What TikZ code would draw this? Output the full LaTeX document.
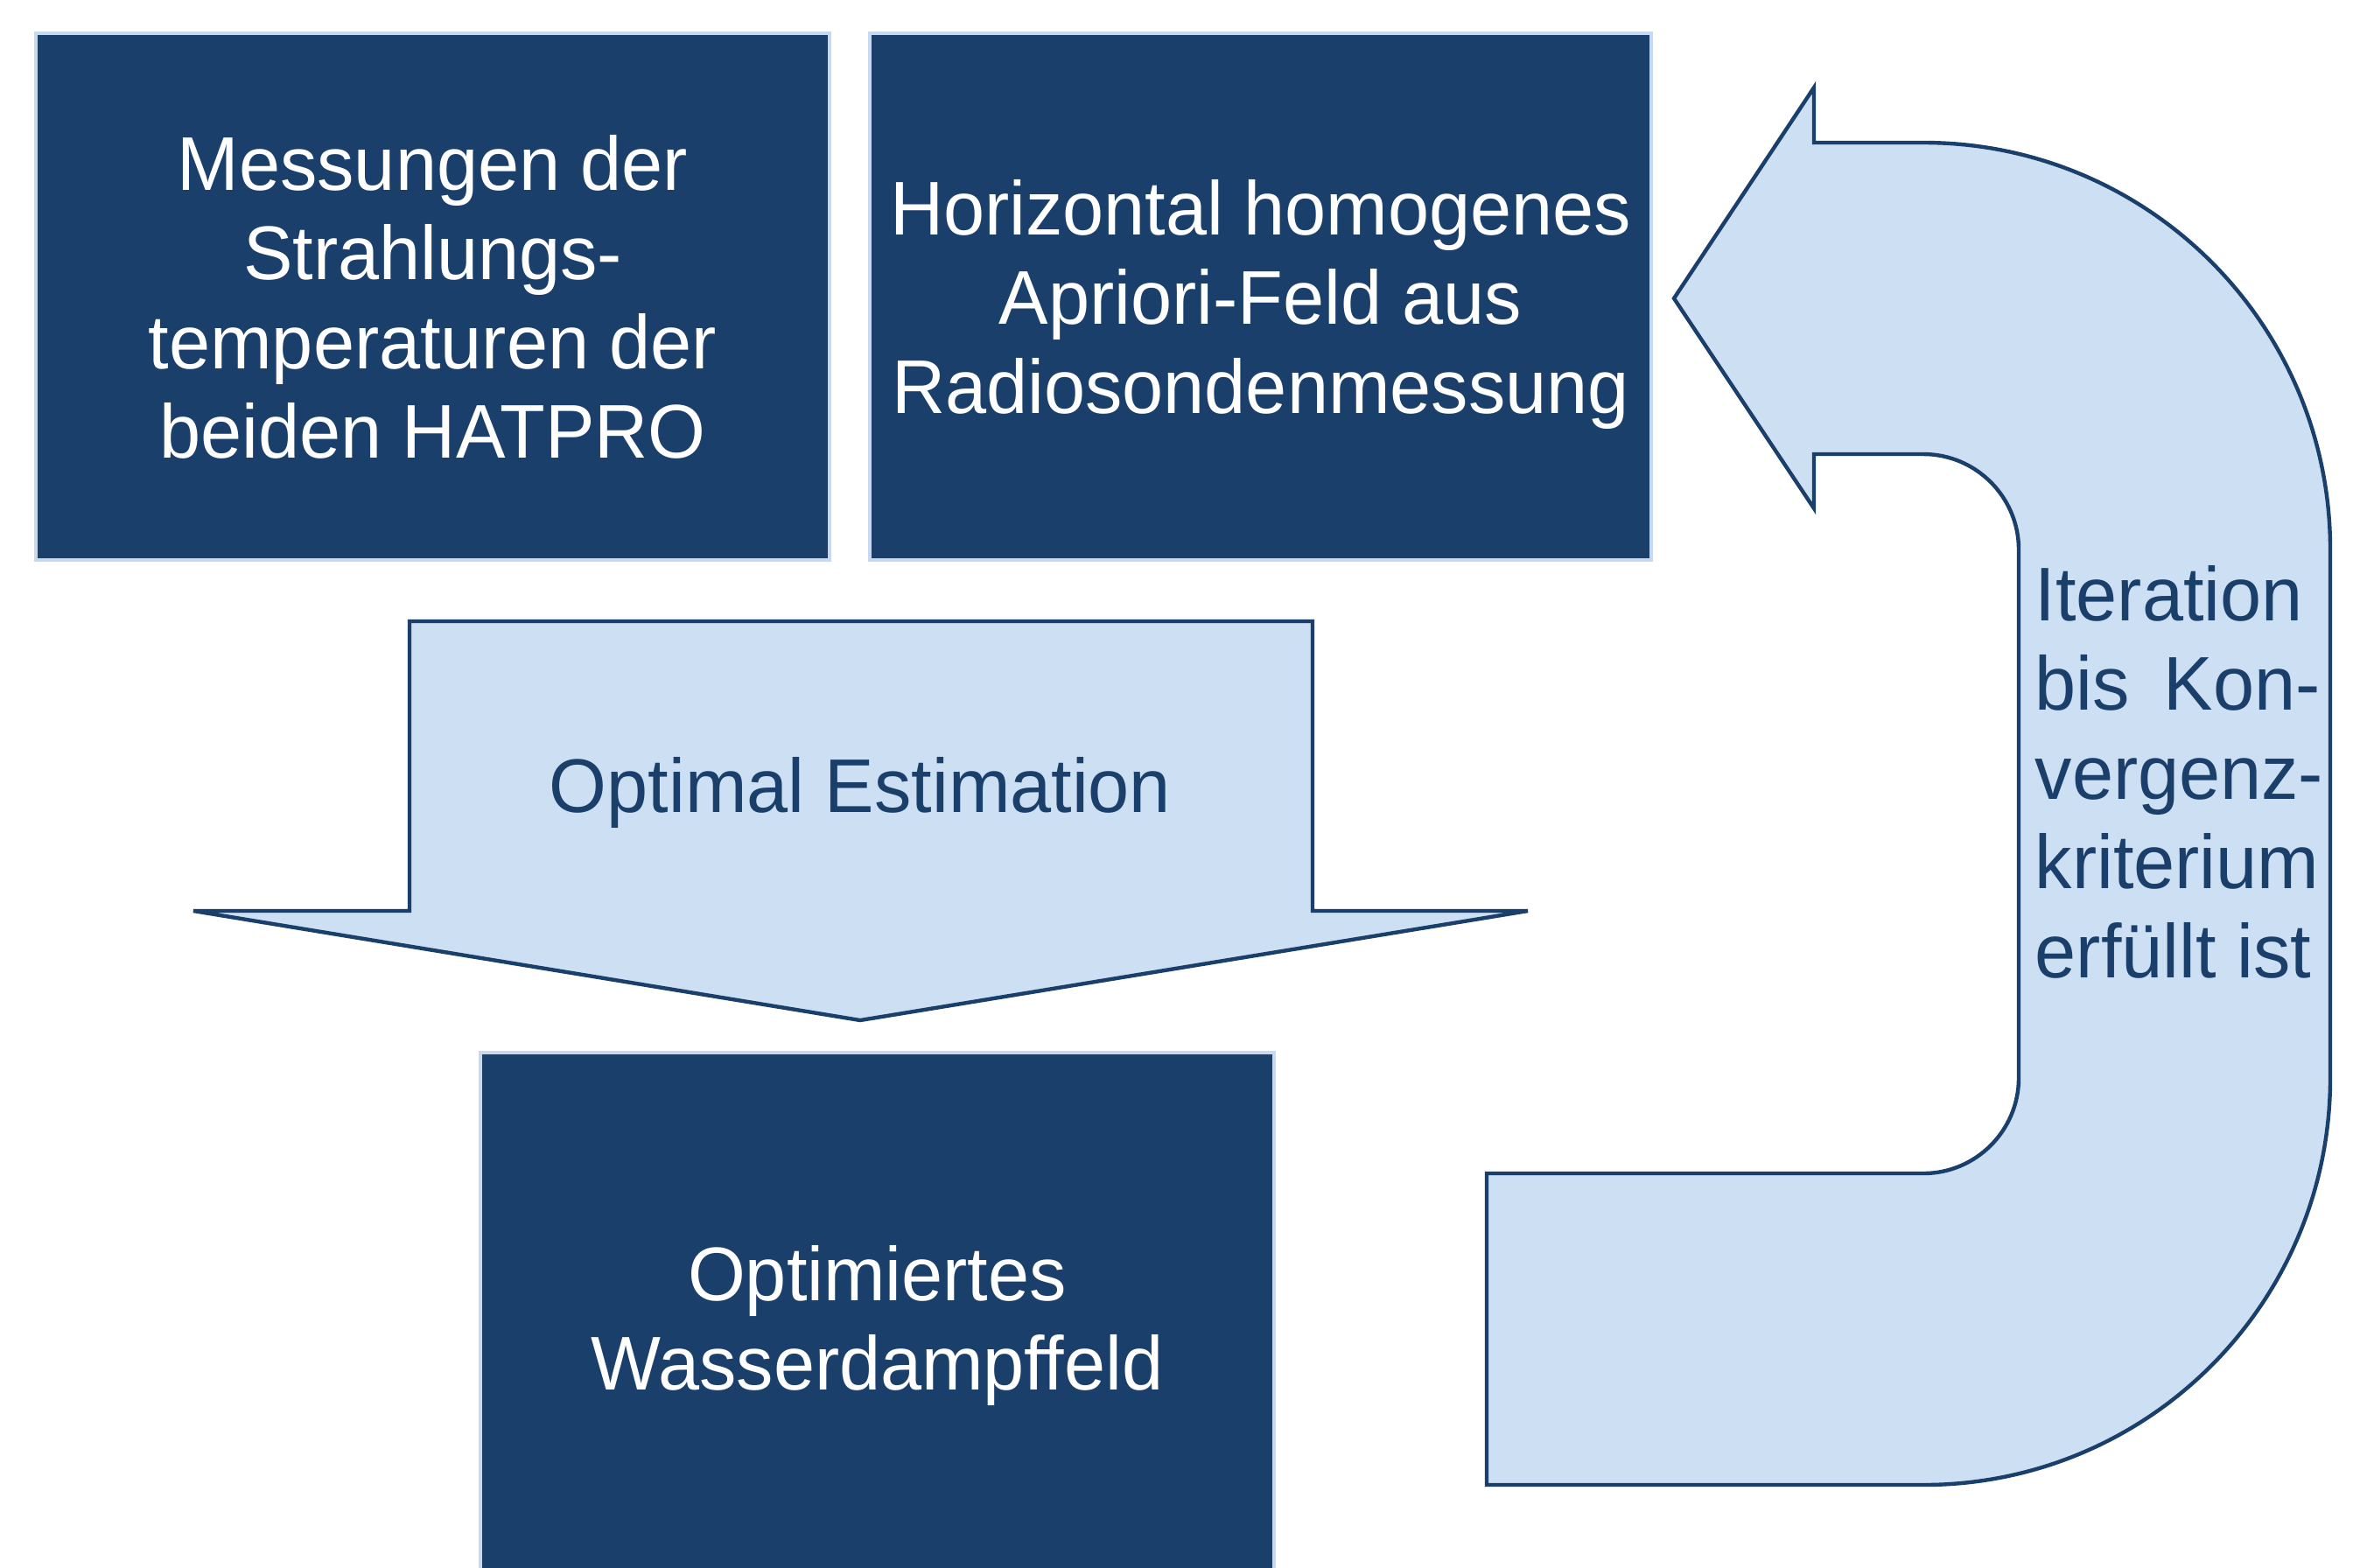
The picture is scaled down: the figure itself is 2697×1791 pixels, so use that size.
\documentclass[tikz,border=0pt]{standalone}
\usepackage{fontspec}
\setmainfont{Liberation Sans}[FakeStretch=0.973]
\definecolor{navy}{HTML}{1A3F6B}
\definecolor{paleblue}{HTML}{CDDFF3}
\definecolor{boxedge}{HTML}{C6D9F1}
\begin{document}
\begin{tikzpicture}[x=0.25pt, y=-0.25pt,
  txt/.style={font=\fontsize{21.75pt}{25.5pt}\selectfont, align=center, text depth=0pt, inner sep=0pt},
  box/.style={txt, fill=navy, draw=boxedge, line width=1.1pt, text=white},
  bigarrow/.style={fill=paleblue, draw=navy, line width=1.1pt, line join=miter}]
\useasboundingbox (0,0) rectangle (2697,1791);
\clip (0,0) rectangle (2697,1791);

% input boxes
\node[box, minimum width=226.75pt, minimum height=150.5pt] (mess) at (494.5,339)
  {Messungen der\\Strahlungs-\\temperaturen der\\beiden HATPRO};
\node[box, minimum width=223.25pt, minimum height=150.5pt] (apriori) at (1440.5,339)
  {Horizontal homogenes\\Apriori-Feld aus\\Radiosondenmessung};

% block arrow pointing down
\draw[bigarrow] (468,710) -- (1500,710) -- (1500,1041) -- (1746,1041)
  -- (983,1166) -- (221,1041) -- (468,1041) -- cycle;
\node[txt, text=navy] (oe) at (983,897) {Optimal Estimation};

% result box
\node[box, minimum width=226.75pt, minimum height=151.5pt] (result) at (1002.5,1506)
  {Optimiertes\\Wasserdampffeld};

% curved iteration arrow
\draw[bigarrow] (1913,341) -- (2073,100) -- (2073,163) -- (2198,163)
  .. controls (2455,163) and (2663,371) .. (2663,628)
  -- (2663,1232)
  .. controls (2663,1489) and (2455,1697) .. (2198,1697)
  -- (1699,1697) -- (1699,1341) -- (2198,1341)
  .. controls (2258,1341) and (2307,1292) .. (2307,1232)
  -- (2307,628)
  .. controls (2307,568) and (2258,519) .. (2198,519)
  -- (2073,519) -- (2073,581) -- cycle;
\node[txt, text=navy, align=left, anchor=west] (iter) at (2325,882)
  {Iteration\\\makebox[81.5pt][s]{bis Kon-}\\vergenz-\\kriterium\\erfüllt ist};
\end{tikzpicture}
\end{document}
